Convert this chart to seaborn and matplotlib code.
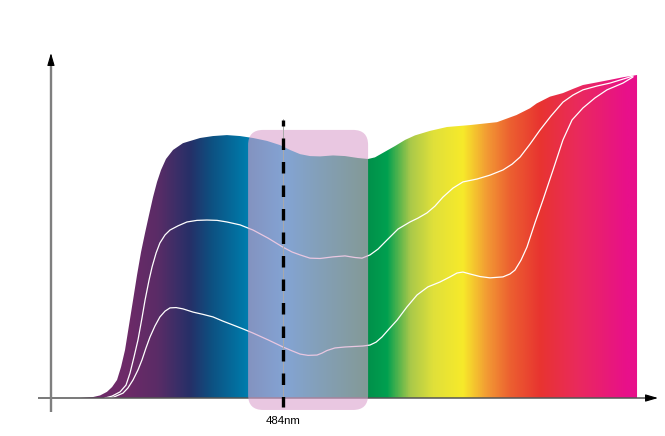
import numpy as np
import pandas as pd
import matplotlib
matplotlib.use('Agg')
import matplotlib.pyplot as plt
from matplotlib.colors import LinearSegmentedColormap
from matplotlib.patches import FancyBboxPatch
import seaborn as sns

# outer envelope of the spectrum: wavelength (nm) / relative intensity (%)
env_nm = [377.9, 384.8, 388.5, 392.1, 394.8, 397.4, 399.5, 401.6, 403.7, 405.8, 407.9,
          410.0, 412.1, 414.2, 416.3, 418.4, 420.5, 423.1, 426.8, 432.0, 441.0, 447.8,
          455.1, 462.0, 468.8, 476.1, 483.0, 488.2, 493.5, 498.7, 504.0, 510.8, 517.1,
          523.9, 529.2, 532.8, 537.0, 543.3, 548.6, 553.8, 561.7, 570.6, 582.7, 596.9,
          607.1, 614.2, 617.7, 624.7, 631.5, 636.8, 642.0, 649.2, 656.2, 663.0, 670.4]
env_val = [0, 0.3, 0.8, 1.9, 3.4, 5.6, 9.6, 14.9, 22.6, 30.3, 38.1,
           45.2, 51.1, 56.7, 62.2, 66.9, 70.6, 74.0, 76.8, 78.9, 80.5, 81.1,
           81.4, 81.1, 80.5, 79.6, 78.3, 76.8, 75.5, 74.9, 74.8, 75.1, 74.9,
           74.3, 74.0, 74.5, 75.9, 78.0, 79.9, 81.3, 82.7, 83.9, 84.5, 85.4,
           87.6, 89.7, 91.2, 93.3, 94.4, 95.7, 96.9, 97.7, 98.5, 99.3, 100]

# upper white curve
mid_nm = [391.1, 394.8, 399.0, 402.1, 404.2, 406.3, 408.4, 410.5, 412.1, 414.2, 415.8,
          417.9, 419.9, 422.6, 425.2, 429.4, 434.1, 439.4, 444.6, 449.9, 455.1, 462.0,
          468.8, 476.7, 484.5, 489.3, 493.5, 498.7, 504.0, 510.8, 517.1, 522.3, 526.0,
          530.2, 534.4, 539.1, 544.9, 551.2, 555.4, 560.1, 564.3, 568.5, 573.8, 579.0,
          586.4, 593.2, 600.0, 604.8, 609.0, 614.2, 619.5, 625.2, 631.5, 636.8, 642.0,
          649.4, 656.2, 665.1, 668.3]
mid_val = [0, 0.6, 1.9, 4.0, 7.7, 12.7, 18.0, 24.8, 30.3, 36.5, 40.6,
           44.9, 48.0, 50.5, 52.0, 53.3, 54.5, 55.0, 55.1, 55.0, 54.5, 53.6,
           52.0, 49.5, 46.7, 45.2, 44.3, 43.3, 43.2, 43.7, 44.0, 43.5, 43.3,
           44.3, 46.1, 48.9, 52.3, 54.5, 55.7, 57.3, 59.4, 62.2, 65.0, 66.9,
           67.8, 69.0, 70.6, 72.4, 74.6, 78.6, 83.0, 87.3, 91.6, 93.8, 95.4,
           96.6, 97.5, 99.1, 99.7]

# lower white curve
low_nm = [391.1, 395.3, 400.5, 403.1, 405.8, 408.4, 410.5, 412.6, 414.7, 417.3, 419.9,
          422.6, 425.2, 428.4, 432.0, 437.3, 442.5, 447.8, 453.0, 458.3, 463.5, 468.8,
          476.7, 484.5, 489.3, 493.5, 497.7, 502.4, 505.0, 507.6, 511.8, 517.1, 526.5,
          530.2, 533.4, 536.5, 540.7, 544.4, 549.6, 554.9, 560.6, 566.9, 572.2, 575.9,
          579.0, 582.7, 588.0, 593.2, 600.0, 603.7, 606.3, 609.5, 612.6, 616.8, 621.0,
          626.3, 631.5, 636.3, 642.0, 648.3, 654.6, 663.0, 668.3]
low_val = [0, 0.2, 1.5, 3.1, 5.6, 8.7, 11.8, 15.5, 18.9, 22.3, 25.1,
           26.9, 27.9, 28.0, 27.6, 26.6, 25.9, 25.1, 23.8, 22.6, 21.4, 20.1,
           18.0, 15.8, 14.6, 13.6, 13.2, 13.3, 13.9, 14.7, 15.5, 15.8, 16.1,
           16.4, 17.3, 18.9, 21.7, 24.1, 28.2, 31.9, 34.4, 35.9, 37.5, 38.7,
           39.0, 38.4, 37.6, 37.2, 37.5, 38.4, 39.6, 42.7, 46.7, 54.2, 61.3,
           70.6, 79.9, 86.1, 89.8, 92.9, 95.4, 97.5, 99.4]

# colour of the spectrum along the wavelength axis
stop_nm = [378, 402.6, 418.4, 435.7, 446.2, 463.5, 485.6, 504, 527.6, 539, 551.2,
           563.3, 579, 591.6, 603.7, 619.5, 638.9, 665.1, 671]
stop_colors = ['#6d2a6a', '#6d2a68', '#5a2c66', '#253068', '#0e4f80', '#0078a8',
               '#00a7de', '#009d98', '#008e49', '#00a050', '#a8c84a', '#e0e03a',
               '#f7ea2a', '#f29a34', '#ec6030', '#e83430', '#ea2a5c', '#e8108a', '#e8108a']

marker_nm = 484
marker_label = '484nm'
band_nm = (466.2, 529.2)

sns.set_style('white')
plt.rcParams['font.family'] = ['Liberation Sans', 'DejaVu Sans']
plt.rcParams['lines.scale_dashes'] = False

fig = plt.figure(figsize=(6.65, 4.36), dpi=100)
ax = fig.add_axes([0, 0, 1, 1])

# gradient filled area
lo, hi = stop_nm[0], stop_nm[-1]
cmap = LinearSegmentedColormap.from_list(
    'spec', [((s - lo) / (hi - lo), c) for s, c in zip(stop_nm, stop_colors)], N=512)
poly = ax.fill_between(env_nm, 0, env_val, facecolor='none', edgecolor='none')
grad = np.linspace(0, 1, 800).reshape(1, -1)
img = ax.imshow(grad, cmap=cmap, extent=[lo, hi, 0, 101], aspect='auto',
                interpolation='bilinear', origin='lower', zorder=1)
img.set_clip_path(poly.get_paths()[0], transform=ax.transData)

# white curves
curves = pd.concat([
    pd.DataFrame({'nm': mid_nm, 'val': mid_val, 'curve': 'mid'}),
    pd.DataFrame({'nm': low_nm, 'val': low_val, 'curve': 'low'}),
])
sns.lineplot(data=curves, x='nm', y='val', units='curve', estimator=None, sort=False,
             color='white', lw=0.9, ax=ax, zorder=3, legend=False)
ax.set_xlim(335.95, 685.08)
ax.set_ylim(-11.76, 123.22)
ax.axis('off')

# axes with arrow heads
ax.plot([355.9, 678], [0, 0], color='#555555', lw=1.1, zorder=3, solid_capstyle='butt')
ax.annotate('', xy=(681.4, 0), xytext=(676, 0),
            arrowprops=dict(arrowstyle='-|>,head_length=0.75,head_width=0.22',
                            color='black', lw=0.8, shrinkA=0, shrinkB=0), zorder=6)
ax.plot([362.7, 362.7], [-4.33, 104], color='#7f7f7f', lw=1.7, zorder=3, solid_capstyle='butt')
ax.annotate('', xy=(362.7, 106.8), xytext=(362.7, 103),
            arrowprops=dict(arrowstyle='-|>,head_length=0.75,head_width=0.22',
                            color='black', lw=0.8, shrinkA=0, shrinkB=0), zorder=6)

# highlighted band
box = FancyBboxPatch((band_nm[0], -3.7), band_nm[1] - band_nm[0], 86.7,
                     boxstyle='round,pad=0,rounding_size=7.9', mutation_aspect=0.59,
                     facecolor='#dba2cd', edgecolor='none', alpha=0.6, zorder=4)
ax.add_patch(box)

# marker line
ax.plot([marker_nm + 0.3] * 2, [86.4, -2.5], color='#aaaaaa', lw=0.7, zorder=5)
ax.plot([marker_nm + 0.3] * 2, [86.07, -2.69], color='black', lw=2.4,
        linestyle=(3.96, (8.28, 8.64)), solid_capstyle='butt', dash_capstyle='butt', zorder=6)
ax.text(marker_nm + 0.4, -7.03, marker_label, ha='center', va='center', fontsize=8.2,
        color='black', zorder=7)

fig.savefig('out.png', dpi=100)
